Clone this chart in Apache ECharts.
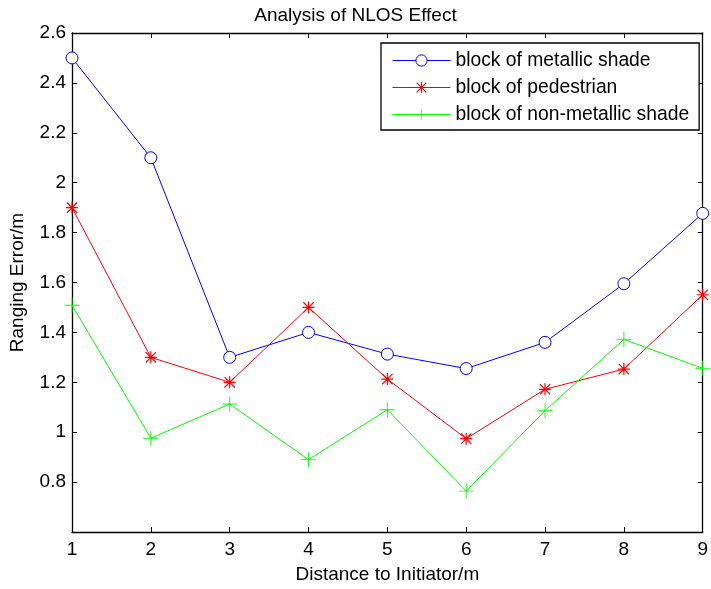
<!DOCTYPE html>
<html>
<head>
<meta charset="utf-8">
<script src="https://cdn.jsdelivr.net/npm/echarts@6/dist/echarts.min.js"></script>
<style>
  html, body { margin: 0; padding: 0; background: #fff; }
  #chart { width: 711px; height: 589px; }
</style>
</head>
<body>
<div id="chart"></div>
<script>
  // distance to initiator (m)
  var distances = [1, 2, 3, 4, 5, 6, 7, 8, 9];
  var metallic = [2.50, 2.10, 1.30, 1.40, 1.313, 1.255, 1.36, 1.595, 1.877];
  var pedestrian = [1.90, 1.30, 1.20, 1.50, 1.213, 0.974, 1.172, 1.253, 1.551];
  var nonMetallic = [1.509, 0.976, 1.113, 0.89, 1.09, 0.764, 1.086, 1.372, 1.256];
  var seriesNames = ['block of metallic shade', 'block of pedestrian', 'block of non-metallic shade'];

  var FONT = 'Liberation Sans, Arial, Helvetica, sans-serif';

  // matlab style markers (asterisk, plus)
  var starPath = 'path://M9 0h2v20h-2z M0 9h20v2h-20z M2.1 0.7L19.3 17.9L17.9 19.3L0.7 2.1z M17.9 0.7L19.3 2.1L2.1 19.3L0.7 17.9z';
  var plusPath = 'path://M9.4 0h1.2v20h-1.2z M0 9.4h20v1.2h-20z';

  function pairs(ys) {
    return distances.map(function (x, i) { return [x, ys[i]]; });
  }

  var chart = echarts.init(document.getElementById('chart'));

  var axisText = { color: '#000', fontSize: 19, fontFamily: FONT };
  var blackLine = { show: true, onZero: false, lineStyle: { color: '#000', width: 1.3 } };
  var tickIn = { show: true, inside: true, length: 5, lineStyle: { color: '#000' } };

  chart.setOption({
    animation: false,
    backgroundColor: '#fff',
    title: {
      text: 'Analysis of NLOS Effect',
      left: 'center',
      top: 1,
      textStyle: { color: '#000', fontSize: 19, fontWeight: 'normal', fontFamily: FONT },
    },
    grid: {
      left: 70,
      right: 5,
      top: 33,
      bottom: 55,
    },
    legend: {
      orient: 'vertical',
      left: 381,
      top: 43,
      padding: [8, 10, 6, 11],
      itemWidth: 58,
      itemHeight: 14,
      itemGap: 8,
      backgroundColor: '#fff',
      borderColor: '#000',
      borderWidth: 1.3,
      borderRadius: 0,
      lineStyle: { width: 1 },
      itemStyle: { borderWidth: 1 },
      textStyle: { color: '#000', fontSize: 19.3, fontFamily: FONT },
      data: seriesNames,
    },
    xAxis: [
      {
        type: 'value',
        min: 1,
        max: 9,
        interval: 1,
        name: 'Distance to Initiator/m',
        nameLocation: 'middle',
        nameGap: 33,
        nameTextStyle: axisText,
        axisLine: blackLine,
        axisTick: tickIn,
        axisLabel: Object.assign({ margin: 8 }, axisText),
        splitLine: { show: false },
      },
      {
        type: 'value',
        position: 'top',
        min: 1,
        max: 9,
        interval: 1,
        axisLine: blackLine,
        axisTick: tickIn,
        axisLabel: { show: false },
        splitLine: { show: false },
      },
    ],
    yAxis: [
      {
        type: 'value',
        min: 0.6,
        max: 2.6,
        interval: 0.2,
        name: 'Ranging Error/m',
        nameLocation: 'middle',
        nameGap: 45,
        nameTextStyle: axisText,
        axisLine: blackLine,
        axisTick: tickIn,
        axisLabel: Object.assign({
          margin: 6,
          formatter: function (v) {
            if (Math.abs(v - 0.6) < 1e-6) return '';
            return String(Math.round(v * 10) / 10);
          },
        }, axisText),
        splitLine: { show: false },
      },
      {
        type: 'value',
        position: 'right',
        min: 0.6,
        max: 2.6,
        interval: 0.2,
        axisLine: blackLine,
        axisTick: tickIn,
        axisLabel: { show: false },
        splitLine: { show: false },
      },
    ],
    series: [
      {
        name: seriesNames[0],
        type: 'line',
        data: pairs(metallic),
        symbol: 'circle',
        symbolSize: 12,
        color: '#0000ff',
        lineStyle: { color: '#0000ff', width: 1 },
        itemStyle: { color: '#fff', borderColor: '#0000ff', borderWidth: 1 },
      },
      {
        name: seriesNames[1],
        type: 'line',
        data: pairs(pedestrian),
        symbol: starPath,
        symbolSize: 12,
        color: '#ff0000',
        lineStyle: { color: '#ff0000', width: 1 },
        itemStyle: { color: '#ff0000' },
      },
      {
        name: seriesNames[2],
        type: 'line',
        data: pairs(nonMetallic),
        symbol: plusPath,
        symbolSize: 15,
        color: '#00ff00',
        lineStyle: { color: '#00ff00', width: 1 },
        itemStyle: { color: '#00ff00' },
      },
    ],
  });
</script>
</body>
</html>
